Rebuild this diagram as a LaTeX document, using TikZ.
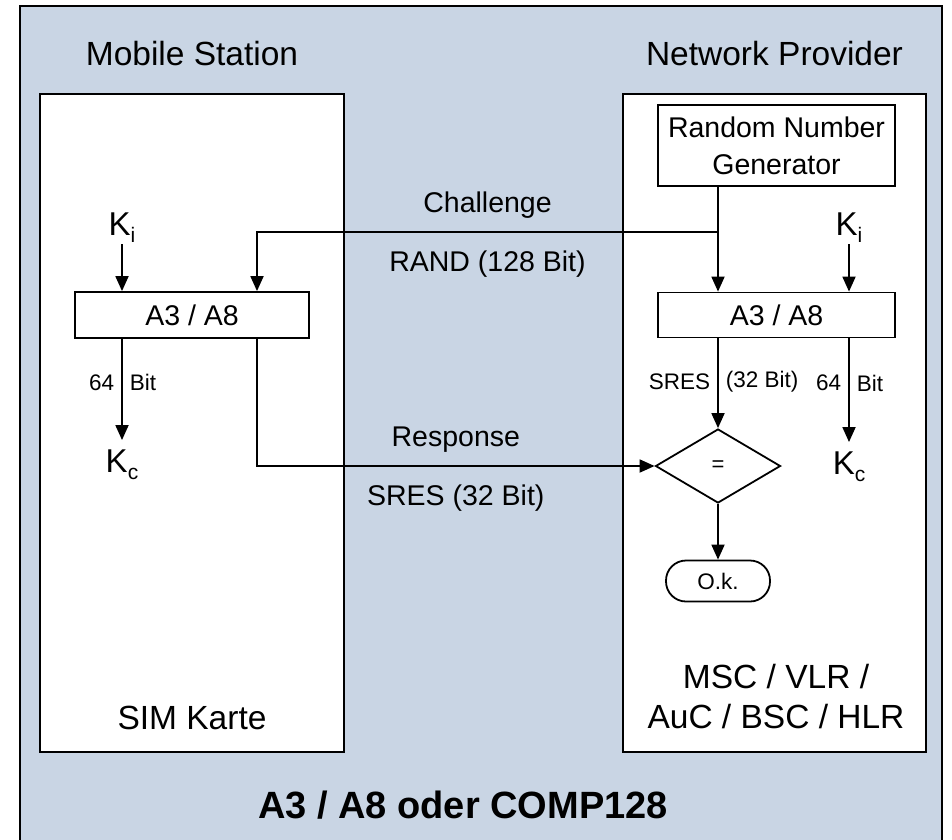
\documentclass[tikz,border=0pt]{standalone}
\usepackage{fontspec}
\setmainfont{Liberation Sans}
\usepackage{tikz}
\usetikzlibrary{arrows.meta}
\usetikzlibrary{calc}
\usetikzlibrary{positioning}
\usetikzlibrary{shapes.geometric}

\definecolor{panelblue}{RGB}{201,213,228}
\newcommand{\keyidx}[1]{\raisebox{-7pt}{\fontsize{21}{21}\selectfont #1}}

\begin{document}
\begin{tikzpicture}
[
	x = 1pt, y = -1pt,
	panel/.style	= {rectangle, draw = black, fill = white, line width = 1.8pt, inner sep = 0pt},
	box/.style	= {panel, font = \fontsize{28.5}{37}\selectfont},
	head/.style	= {inner sep = 0pt, font = \fontsize{33.5}{40}\selectfont},
	key/.style	= {inner sep = 1pt, font = \fontsize{33}{36}\selectfont},
	bits/.style	= {inner sep = 0pt, font = \fontsize{22.5}{24}\selectfont},
	lbl/.style	= {inner sep = 0pt, font = \fontsize{28.5}{32}\selectfont},
	flow/.style	= {-{Triangle[length = 15pt, width = 13pt]}, line width = 1.8pt},
]

	\useasboundingbox (0,0) rectangle (952,839);
	\draw [fill = panelblue, line width = 2.2pt] (20,6) rectangle (942,850);

	\node (sim) [panel, minimum width = 304pt, minimum height = 658pt] at (192,423) {};
	\node (net) [panel, minimum width = 303pt, minimum height = 658pt] at (774.5,423) {};
	%
	\node (msHead) [head] at (192,54) {Mobile Station};
	\node (npHead) [head] at (774.5,54) {Network Provider};
	\node (simTxt) [head] at (192,718) {SIM Karte};
	\node (netTxt) [head, align = center] at (776,697) {MSC / VLR /\\AuC / BSC / HLR};
	\node (title) [inner sep = 0pt, font = \fontsize{38}{44}\selectfont\bfseries] at (463,805) {A3 / A8 oder COMP128};

	\node (rng) [box, align = center, minimum width = 237pt, minimum height = 81pt] at (776.5,145.5) {Random Number\\Generator};
	\node (algL) [box, minimum width = 234pt, minimum height = 46pt] at (192,315) {A3 / A8};
	\node (algR) [box, minimum width = 237pt, minimum height = 45pt] at (776.5,315) {A3 / A8};
	\node (cmp) [diamond, draw, fill = white, line width = 1.8pt, minimum width = 125pt, minimum height = 74pt, inner sep = 0pt, font = \fontsize{22}{24}\selectfont] at (718,466) {=};
	\node (ok) [box, rounded corners = 20pt, minimum width = 104pt, minimum height = 41pt, font = \fontsize{22.5}{24}\selectfont] at (718,581) {O.k.};
	%
	\node (kiL) [key] at (122,228) {K\keyidx{i}};
	\node (kiR) [key] at (849,228) {K\keyidx{i}};
	\node (kcL) [key, outer sep = 9pt] at (122,465) {K\keyidx{c}};
	\node (kcR) [key, outer sep = 9pt] at (849,467) {K\keyidx{c}};
	%
	\coordinate (split) at (718,232);

	\draw [flow] (kiL) -- (kiL |- algL.north);
	\draw [flow] (kiR) -- (kiR |- algR.north);
	\draw [flow] (rng.south -| cmp) -- (algR.north -| cmp);
	\draw [flow] (split) -| node [lbl, pos = 0.25, above = 13pt] {Challenge} node [lbl, pos = 0.25, below = 18pt] {RAND (128 Bit)} ([xshift = 65pt] algL.north);
	%
	\draw [flow] (algL.south -| kcL) -- node [bits, pos = 0.43, left = 7pt] {64} node [bits, pos = 0.43, right = 7pt] {Bit} (kcL);
	\draw [flow] (algR.south -| kcR) -- node [bits, pos = 0.43, left = 7pt] {64} node [bits, pos = 0.43, right = 7pt] {Bit} (kcR);
	\draw [flow] (algR.south -| cmp) -- node [bits, pos = 0.48, left = 7pt] {SRES} node [bits, pos = 0.48, right = 7pt] {(32 Bit)} (cmp);
	\draw [flow] ([xshift = 65pt] algL.south) |- node [lbl, pos = 0.75, above = 13pt] {Response} node [lbl, pos = 0.75, below = 18pt] {SRES (32 Bit)} (cmp);
	\draw [flow] (cmp) -- (ok);

\end{tikzpicture}
\end{document}
